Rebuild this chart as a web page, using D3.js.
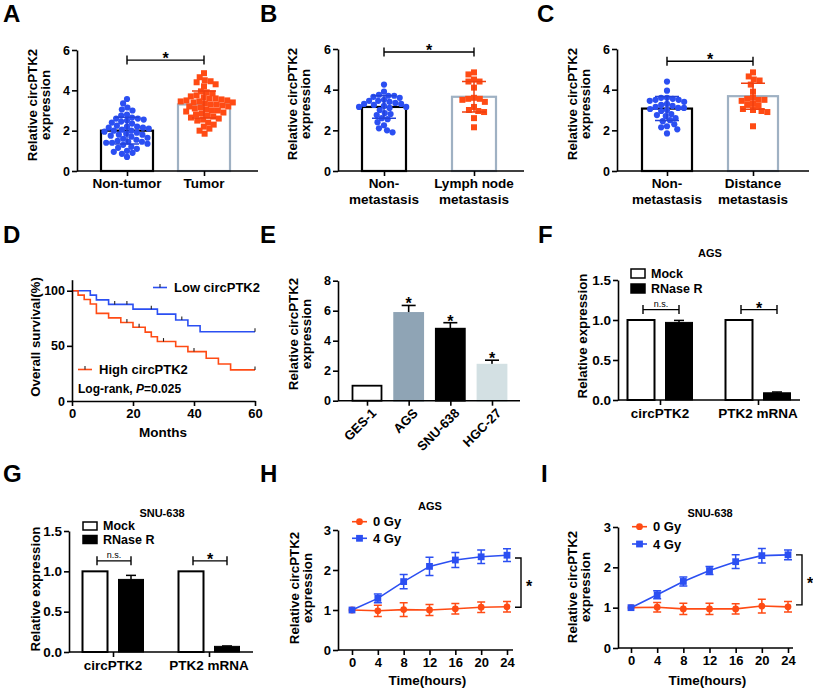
<!DOCTYPE html>
<html>
<head>
<meta charset="utf-8">
<script src="https://cdn.jsdelivr.net/npm/d3@7/dist/d3.min.js"></script>
<style>
html,body{margin:0;padding:0;background:#fff;}
svg{display:block;}
</style>
</head>
<body>
<svg id="fig" width="813" height="690" xmlns="http://www.w3.org/2000/svg"></svg>
<script>
// ================= DATA =================
// Panel A
const aCategories = ["Non-tumor", "Tumor"];
const aMeans = [2.0, 3.3];
const aSD = [0.66, 0.67];
const aNonTumor = [3.57, 3.35, 3.15, 3.05, 3.0, 2.8, 2.75, 2.65, 2.6, 2.6, 2.55, 2.5, 2.45, 2.4, 2.35, 2.25, 2.2, 2.2, 2.15, 2.15, 2.1, 2.05, 2.0, 2.0, 1.95, 1.9, 1.85, 1.8, 1.8, 1.75, 1.7, 1.65, 1.6, 1.55, 1.5, 1.45, 1.45, 1.4, 1.4, 1.35, 1.3, 1.2, 1.15, 1.1, 1.0, 0.95, 0.9, 0.85, 0.7];
const aTumor = [4.85, 4.65, 4.5, 4.45, 4.4, 4.3, 4.2, 3.95, 3.9, 3.85, 3.75, 3.7, 3.65, 3.6, 3.6, 3.55, 3.5, 3.5, 3.45, 3.45, 3.4, 3.4, 3.35, 3.3, 3.3, 3.25, 3.2, 3.2, 3.15, 3.1, 3.05, 3.0, 3.0, 2.95, 2.9, 2.85, 2.8, 2.75, 2.7, 2.65, 2.6, 2.55, 2.5, 2.4, 2.3, 2.2, 2.1, 2.0, 1.85];
// Panel B
const bCategories = ["Non-metastasis", "Lymph node metastasis"];
const bLabelLines = [["Non-", "metastasis"], ["Lymph node", "metastasis"]];
const bMeans = [3.15, 3.65];
const bSD = [0.55, 0.75];
const bNonMetastasis = [4.25, 3.9, 3.75, 3.7, 3.7, 3.65, 3.6, 3.5, 3.45, 3.45, 3.4, 3.35, 3.3, 3.3, 3.25, 3.2, 3.15, 3.15, 3.1, 3.0, 2.85, 2.8, 2.75, 2.6, 2.55, 2.4, 2.25, 2.1, 2.0, 1.9];
const bLymphNode = [4.85, 4.75, 4.5, 4.4, 4.4, 4.1, 3.6, 3.55, 3.55, 3.5, 3.4, 3.15, 3.0, 2.95, 2.9, 2.6, 2.15];
// Panel C
const cCategories = ["Non-metastasis", "Distance metastasis"];
const cLabelLines = [["Non-", "metastasis"], ["Distance", "metastasis"]];
const cMeans = [3.07, 3.68];
const cSD = [0.59, 0.64];
const cNonMetastasis = [4.4, 3.95, 3.6, 3.6, 3.55, 3.5, 3.5, 3.45, 3.4, 3.3, 3.25, 3.2, 3.15, 3.1, 3.1, 3.05, 3.0, 2.95, 2.8, 2.75, 2.7, 2.6, 2.5, 2.45, 2.3, 2.2, 2.15, 2.05, 1.85];
const cDistance = [4.85, 4.65, 4.5, 4.45, 4.25, 3.9, 3.6, 3.55, 3.5, 3.5, 3.45, 3.3, 3.25, 3.2, 3.05, 3.0, 2.95, 2.9, 2.2];
const scatterYTicks = [0, 2, 4, 6];
// Panel D (Kaplan-Meier)
const dLowTimes = [0, 6, 8, 12, 20, 28, 34, 38, 42, 60];
const dLowSurv = [100, 96, 91.7, 87.6, 83.3, 78.8, 73.4, 68.2, 62.8, 62.8];
const dLowCensor = [14, 18, 26, 36, 60];
const dHighTimes = [0, 2, 4, 6, 8, 12, 16, 20, 24, 26, 28, 34, 38, 44, 48, 52, 60];
const dHighSurv = [100, 96, 92, 88, 79.5, 75.4, 71.2, 66.9, 62.5, 58.3, 53.9, 49.4, 44.8, 38.8, 33.6, 28.2, 28.2];
const dHighCensor = [18, 22, 30, 40, 60];
const dXTicks = [0, 20, 40, 60];
const dYTicks = [0, 50, 100];
// Panel E
const eCells = ["GES-1", "AGS", "SNU-638", "HGC-27"];
const eMeans = [1.0, 5.85, 4.8, 2.4];
const eErr = [0, 0.5, 0.4, 0.3];
const eSignificant = [false, true, true, true];
const eYTicks = [0, 2, 4, 6, 8];
// Panels F, G
const rnaGroups = ["circPTK2", "PTK2 mRNA"];
const rnaTreatments = ["Mock", "RNase R"];
const fMock = [1.0, 1.0];
const fRNase = [0.97, 0.09];
const fRNaseErr = [0.025, 0.01];
const gMock = [1.0, 1.0];
const gRNase = [0.90, 0.07];
const gRNaseErr = [0.05, 0.005];
const rnaSigLabels = ["n.s.", "*"];
const rnaYTicks = [0.0, 0.5, 1.0, 1.5];
// Panels H, I
const hoursTicks = [0, 4, 8, 12, 16, 20, 24];
const doseLabels = ["0 Gy", "4 Gy"];
const h0Gy = [1.0, 0.98, 1.01, 1.0, 1.03, 1.07, 1.08];
const h0GyErr = [0, 0.14, 0.17, 0.14, 0.13, 0.13, 0.13];
const h4Gy = [1.0, 1.29, 1.71, 2.09, 2.25, 2.33, 2.37];
const h4GyErr = [0, 0.11, 0.18, 0.23, 0.19, 0.17, 0.16];
const i0Gy = [1.0, 1.01, 0.97, 0.97, 0.97, 1.04, 1.02];
const i0GyErr = [0, 0.12, 0.14, 0.14, 0.13, 0.17, 0.13];
const i4Gy = [1.0, 1.32, 1.65, 1.92, 2.14, 2.29, 2.31];
const i4GyErr = [0, 0.1, 0.11, 0.1, 0.17, 0.18, 0.12];
const timeYTicks = [0, 1, 2, 3];

// ================= DRAWING =================
const FONT = "'Liberation Sans', Arial, Helvetica, sans-serif";
const BLUE = "#2b4ff2", RED = "#ff4b14";
const INT = d3.format("d");
const svg = d3.select("#fig");
svg.append("rect").attr("width", 813).attr("height", 690).attr("fill", "#fff");

function text(g, s, x, y, size, anchor, weight) {
  return g.append("text").attr("x", x).attr("y", y)
    .attr("font-family", FONT).attr("font-size", size)
    .attr("font-weight", weight || "bold")
    .attr("text-anchor", anchor || "start").attr("fill", "#000").text(s);
}
function panelLabel(s, x, y) { text(svg, s, x, y, 24, "start"); }
function rotLabel(g, lines, xs, cy, size) {
  lines.forEach((l, i) => {
    g.append("text").attr("transform", `translate(${xs[i]},${cy}) rotate(-90)`)
      .attr("font-family", FONT).attr("font-size", size || 13.3).attr("font-weight", "bold")
      .attr("text-anchor", "middle").text(l);
  });
}
function styleAxis(a, fs) {
  a.select(".domain").attr("stroke", "#000").attr("stroke-width", 1.6);
  a.selectAll(".tick line").attr("stroke", "#000").attr("stroke-width", 1.6);
  a.selectAll(".tick text").attr("font-family", FONT).attr("font-weight", "bold")
    .attr("font-size", fs || 12.5).attr("fill", "#000");
}
function leftAxis(g, y, x, ticks, fmt, fs) {
  const ax = d3.axisLeft(y).tickValues(ticks).tickSize(5).tickPadding(2).tickSizeOuter(0).tickFormat(fmt || INT);
  const a = g.append("g").attr("transform", `translate(${x},0)`).call(ax);
  styleAxis(a, fs);
  return a;
}
function baseLine(g, x1, x2, y) {
  g.append("line").attr("x1", x1).attr("x2", x2).attr("y1", y).attr("y2", y)
    .attr("stroke", "#000").attr("stroke-width", 1.6);
}
function catTicks(g, xs, y) {
  const a = g.append("g").attr("transform", `translate(0,${y})`)
    .call(d3.axisBottom(xs).tickSize(5).tickFormat(""));
  a.select(".domain").remove();
  a.selectAll(".tick line").attr("stroke", "#000").attr("stroke-width", 1.6);
}
function hBracket(g, x1, x2, y, label, small) {
  const p = d3.path();
  p.moveTo(x1, y - 4.5); p.lineTo(x1, y + 4.5);
  p.moveTo(x1, y); p.lineTo(x2, y);
  p.moveTo(x2, y - 4.5); p.lineTo(x2, y + 4.5);
  g.append("path").attr("d", p.toString()).attr("stroke", "#000").attr("stroke-width", 1.4).attr("fill", "none");
  if (small) text(g, label, (x1 + x2) / 2, y - 2.8, 9, "middle", "normal");
  else text(g, label, (x1 + x2) / 2, y + 4, 16, "middle");
}
// simple beeswarm: each point placed at the smallest horizontal offset free of overlap
function swarm(vals, yS, D) {
  const pts = [];
  vals.slice().sort((a, b) => b - a).forEach(v => {
    const y = yS(v);
    const cands = [0];
    pts.forEach(p => {
      const dy = Math.abs(p.y - y);
      if (dy < D) { const dx = Math.sqrt(D * D - dy * dy); cands.push(p.x + dx, p.x - dx); }
    });
    cands.sort((a, b) => Math.abs(a) - Math.abs(b) || a - b);
    const ok = cands.find(c => pts.every(p => (p.x - c) ** 2 + (p.y - y) ** 2 >= D * D - 0.01));
    pts.push({ v, x: ok, y });
  });
  return pts;
}

// ---------- scatter + bar panels (A, B, C) ----------
function scatterPanel(c) {
  const g = svg.append("g");
  const y = d3.scaleLinear().domain([0, 6]).range([c.y0, c.y6]);
  const x = d3.scalePoint().domain(c.cats).range(c.centers);
  const barStroke = ["#000", "#9fb1c3"];
  c.cats.forEach((cat, i) => {
    g.append("rect").attr("x", x(cat) - c.barW / 2).attr("y", y(c.means[i]))
      .attr("width", c.barW).attr("height", y(0) - y(c.means[i]))
      .attr("fill", "#fff").attr("stroke", barStroke[i]).attr("stroke-width", 2.2);
  });
  c.cats.forEach((cat, i) => {
    const cx = x(cat);
    const pts = swarm(c.groups[i], y, 5.9);
    if (i === 0) {
      g.selectAll(null).data(pts).enter().append("circle")
        .attr("cx", d => cx + d.x).attr("cy", d => d.y).attr("r", 3.1).attr("fill", BLUE);
    } else {
      g.selectAll(null).data(pts).enter().append("rect")
        .attr("x", d => cx + d.x - 3.0).attr("y", d => d.y - 3.0)
        .attr("width", 6.0).attr("height", 6.0).attr("fill", RED);
    }
    const m = c.means[i], s = c.sds[i], col = i === 0 ? "#2342d8" : "#f04010";
    const p = d3.path();
    p.moveTo(cx, y(m - s)); p.lineTo(cx, y(m + s));
    p.moveTo(cx - 12, y(m + s)); p.lineTo(cx + 12, y(m + s));
    p.moveTo(cx - 12, y(m - s)); p.lineTo(cx + 12, y(m - s));
    g.append("path").attr("d", p.toString()).attr("stroke", col).attr("stroke-width", 1.5).attr("fill", "none");
  });
  leftAxis(g, y, c.axisX, scatterYTicks);
  baseLine(g, c.axisX, c.axisEnd, c.y0);
  catTicks(g, x, c.y0);
  c.cats.forEach((cat, i) => {
    c.labels[i].forEach((l, k) => text(g, l, x(cat), c.labelY + k * 16, 13.5, "middle"));
  });
  hBracket(g, x(c.cats[0]), x(c.cats[1]), y(c.bracket), "*");
  rotLabel(g, ["Relative circPTK2", "expression"], c.yLabelX, c.yLabelCY);
}

scatterPanel({ cats: aCategories, labels: [["Non-tumor"], ["Tumor"]], groups: [aNonTumor, aTumor],
  means: aMeans, sds: aSD, axisX: 77, axisEnd: 258, y0: 171, y6: 50, centers: [127, 204], barW: 52,
  labelY: 188, bracket: 5.5, yLabelX: [37, 50], yLabelCY: 105 });
scatterPanel({ cats: bCategories, labels: bLabelLines, groups: [bNonMetastasis, bLymphNode],
  means: bMeans, sds: bSD, axisX: 338, axisEnd: 524, y0: 171, y6: 49, centers: [384, 474], barW: 44,
  labelY: 188, bracket: 5.85, yLabelX: [297, 310], yLabelCY: 104 });
scatterPanel({ cats: cCategories, labels: cLabelLines, groups: [cNonMetastasis, cDistance],
  means: cMeans, sds: cSD, axisX: 617, axisEnd: 809, y0: 171, y6: 49, centers: [667, 753], barW: 50,
  labelY: 188, bracket: 5.4, yLabelX: [577, 590], yLabelCY: 104 });

// ---------- Panel D: Kaplan-Meier ----------
(function () {
  const g = svg.append("g");
  const x = d3.scaleLinear().domain([0, 60]).range([72, 255]);
  const y = d3.scaleLinear().domain([0, 110]).range([401, 279.7]);
  const line = d3.line().curve(d3.curveStepAfter).x(d => x(d[0])).y(d => y(d[1]));
  function km(times, surv, censor, col) {
    const pts = times.map((t, i) => [t, surv[i]]);
    g.append("path").attr("d", line(pts)).attr("fill", "none").attr("stroke", col).attr("stroke-width", 1.6);
    censor.forEach(t => {
      let s = surv[0];
      times.forEach((tt, i) => { if (tt <= t) s = surv[i]; });
      g.append("line").attr("x1", x(t)).attr("x2", x(t)).attr("y1", y(s)).attr("y2", y(s) - 3.5)
        .attr("stroke", "#222").attr("stroke-width", 1.1);
    });
  }
  km(dLowTimes, dLowSurv, dLowCensor, BLUE);
  km(dHighTimes, dHighSurv, dHighCensor, RED);
  leftAxis(g, y, 72, dYTicks);
  const ax = g.append("g").attr("transform", "translate(0,401)")
    .call(d3.axisBottom(x).tickValues(dXTicks).tickSize(5).tickPadding(3).tickSizeOuter(0).tickFormat(INT));
  styleAxis(ax, 13);
  // legend
  function leg(x1, yy, col, label) {
    g.append("line").attr("x1", x1).attr("x2", x1 + 14).attr("y1", yy).attr("y2", yy).attr("stroke", col).attr("stroke-width", 1.6);
    g.append("line").attr("x1", x1 + 7).attr("x2", x1 + 7).attr("y1", yy).attr("y2", yy - 3.5).attr("stroke", "#222").attr("stroke-width", 1.1);
    text(g, label, x1 + 21, yy + 4.5, 13, "start");
  }
  leg(153, 287.5, BLUE, "Low circPTK2");
  leg(78, 369.5, RED, "High circPTK2");
  const t = text(g, "Log-rank, ", 78, 393, 12, "start");
  t.append("tspan").attr("font-style", "italic").text("P");
  t.append("tspan").text("=0.025");
  text(g, "Months", 163, 437, 13.5, "middle");
  rotLabel(g, ["Overall survival(%)"], [40], 337);
})();

// ---------- Panel E ----------
(function () {
  const g = svg.append("g");
  const y = d3.scaleLinear().domain([0, 8]).range([400.7, 280.7]);
  const x = d3.scalePoint().domain(eCells).range([367, 492]);
  const fills = ["#fff", "#8fa4b5", "#000", "#d3e0e3"];
  const strokes = ["#000", "#8fa4b5", "#000", "#d3e0e3"];
  const bw = 29;
  eCells.forEach((c, i) => {
    const cx = x(c);
    if (eErr[i] > 0) {
      const top = y(eMeans[i] + eErr[i]);
      g.append("line").attr("x1", cx).attr("x2", cx).attr("y1", y(eMeans[i])).attr("y2", top).attr("stroke", "#000").attr("stroke-width", 1.6);
      g.append("line").attr("x1", cx - 7).attr("x2", cx + 7).attr("y1", top).attr("y2", top).attr("stroke", "#000").attr("stroke-width", 1.6);
      if (eSignificant[i]) text(g, "*", cx, top + 4, 16, "middle");
    }
    g.append("rect").attr("x", cx - bw / 2).attr("y", y(eMeans[i])).attr("width", bw)
      .attr("height", y(0) - y(eMeans[i])).attr("fill", fills[i]).attr("stroke", strokes[i]).attr("stroke-width", 1.8);
  });
  leftAxis(g, y, 338, eYTicks);
  baseLine(g, 338, 520, 400.7);
  catTicks(g, x, 400.7);
  eCells.forEach(c => {
    g.append("text").attr("transform", `translate(${x(c) + 10},${414}) rotate(-45)`)
      .attr("font-family", FONT).attr("font-size", 13).attr("font-weight", "bold")
      .attr("text-anchor", "end").text(c);
  });
  rotLabel(g, ["Relative circPTK2", "expression"], [298, 311], 334);
})();

// ---------- Panels F, G ----------
function rnasePanel(c) {
  const g = svg.append("g");
  const y = d3.scaleLinear().domain([0, 1.5]).range([c.y0, c.y15]);
  const x = d3.scalePoint().domain(rnaGroups).range(c.centers);
  rnaGroups.forEach((grp, i) => {
    const cx = x(grp);
    const mx = cx + c.off[0], rx = cx + c.off[1];
    g.append("rect").attr("x", mx - c.bw / 2).attr("y", y(c.mock[i])).attr("width", c.bw)
      .attr("height", y(0) - y(c.mock[i])).attr("fill", "#fff").attr("stroke", "#000").attr("stroke-width", 2);
    const top = y(c.rnase[i] + c.err[i]);
    g.append("line").attr("x1", rx).attr("x2", rx).attr("y1", y(c.rnase[i])).attr("y2", top).attr("stroke", "#000").attr("stroke-width", 1.5);
    g.append("line").attr("x1", rx - 5).attr("x2", rx + 5).attr("y1", top).attr("y2", top).attr("stroke", "#000").attr("stroke-width", 1.5);
    g.append("rect").attr("x", rx - c.bw / 2).attr("y", y(c.rnase[i])).attr("width", c.bw)
      .attr("height", y(0) - y(c.rnase[i])).attr("fill", "#000").attr("stroke", "#000").attr("stroke-width", 1);
    hBracket(g, mx + 2, rx, y(1.13), rnaSigLabels[i], i === 0);
  });
  leftAxis(g, y, c.axisX, rnaYTicks, d3.format(".1f"), 13.5);
  baseLine(g, c.axisX, c.axisEnd, c.y0);
  catTicks(g, x, c.y0);
  rnaGroups.forEach(grp => text(g, grp, x(grp), c.labelY, 13.5, "middle"));
  // legend
  const lx = c.legX;
  g.append("rect").attr("x", lx).attr("y", c.legY[0] - c.boxH).attr("width", 14).attr("height", c.boxH)
    .attr("fill", "#fff").attr("stroke", "#000").attr("stroke-width", 1.5);
  g.append("rect").attr("x", lx).attr("y", c.legY[1] - c.boxH).attr("width", 14).attr("height", c.boxH)
    .attr("fill", "#000").attr("stroke", "#000").attr("stroke-width", 1.5);
  text(g, rnaTreatments[0], lx + 20, c.legY[0], 12.5, "start");
  text(g, rnaTreatments[1], lx + 20, c.legY[1], 12.5, "start");
  text(g, c.title, c.titleX, c.titleY, 11, "middle");
  rotLabel(g, ["Relative expression"], [c.yLabelX], c.yLabelCY);
}
rnasePanel({ mock: fMock, rnase: fRNase, err: fRNaseErr, y0: 400, y15: 280, centers: [660, 758], off: [-19, 19],
  bw: 27, axisX: 618, axisEnd: 800, labelY: 418, legX: 631, legY: [278, 293], boxH: 9,
  title: "AGS", titleX: 710, titleY: 257, yLabelX: 587, yLabelCY: 336 });
rnasePanel({ mock: gMock, rnase: gRNase, err: gRNaseErr, y0: 652, y15: 531, centers: [113, 209], off: [-18, 18],
  bw: 25, axisX: 69, axisEnd: 253, labelY: 670, legX: 83, legY: [530, 543.5], boxH: 8,
  title: "SNU-638", titleX: 162, titleY: 517, yLabelX: 40, yLabelCY: 589 });

// ---------- Panels H, I ----------
function timePanel(c) {
  const g = svg.append("g");
  const x = d3.scaleLinear().domain([0, 24]).range([c.x0, c.x24]);
  const y = d3.scaleLinear().domain([0, 3]).range([c.y0, c.y3]);
  const line = d3.line().x((d, i) => x(hoursTicks[i])).y(d => y(d));
  function series(vals, errs, col, marker) {
    vals.forEach((v, i) => {
      if (errs[i] > 0) {
        const p = d3.path();
        const xx = x(hoursTicks[i]);
        p.moveTo(xx, y(v - errs[i])); p.lineTo(xx, y(v + errs[i]));
        p.moveTo(xx - 4, y(v + errs[i])); p.lineTo(xx + 4, y(v + errs[i]));
        p.moveTo(xx - 4, y(v - errs[i])); p.lineTo(xx + 4, y(v - errs[i]));
        g.append("path").attr("d", p.toString()).attr("stroke", col).attr("stroke-width", 1.5).attr("fill", "none");
      }
    });
    g.append("path").attr("d", line(vals)).attr("fill", "none").attr("stroke", col).attr("stroke-width", 1.6);
    vals.forEach((v, i) => drawMarker(x(hoursTicks[i]), y(v), col, marker));
  }
  function drawMarker(px, py, col, marker) {
    if (marker === "circle") g.append("circle").attr("cx", px).attr("cy", py).attr("r", 3.4).attr("fill", col);
    else g.append("rect").attr("x", px - 3.4).attr("y", py - 3.4).attr("width", 6.8).attr("height", 6.8).attr("fill", col);
  }
  series(c.v0, c.e0, RED, "circle");
  series(c.v4, c.e4, BLUE, "square");
  leftAxis(g, y, c.axisX, timeYTicks, INT, 13);
  baseLine(g, c.axisX, c.axisEnd, c.y0);
  const ax = g.append("g").attr("transform", `translate(0,${c.y0})`)
    .call(d3.axisBottom(x).tickValues(hoursTicks).tickSize(5).tickPadding(3).tickFormat(INT));
  ax.select(".domain").remove();
  styleAxis(ax, 13);
  // significance bracket
  const bx = x(24) + 14, yt = y(c.bracket[1]), yb = y(c.bracket[0]);
  const p = d3.path();
  p.moveTo(bx - 6, yt); p.lineTo(bx, yt); p.lineTo(bx, yb); p.lineTo(bx - 6, yb);
  g.append("path").attr("d", p.toString()).attr("stroke", "#000").attr("stroke-width", 1.4).attr("fill", "none");
  text(g, "*", bx + 8, (yt + yb) / 2 + 9, 16, "middle");
  // legend
  [[c.v0, RED, "circle"], [c.v4, BLUE, "square"]].forEach((s, k) => {
    const ly = c.legY[k];
    g.append("line").attr("x1", c.legX).attr("x2", c.legX + 15).attr("y1", ly).attr("y2", ly).attr("stroke", s[1]).attr("stroke-width", 1.6);
    drawMarker(c.legX + 7.5, ly, s[1], s[2]);
    text(g, doseLabels[k], c.legX + 21, ly + 4.5, 13, "start");
  });
  text(g, c.title, c.titleX, c.titleY, 11, "middle");
  text(g, "Time(hours)", (c.axisX + c.axisEnd) / 2 + 2, 685, 13.5, "middle");
  rotLabel(g, ["Relative circPTK2", "expression"], c.yLabelX, c.yLabelCY);
}
timePanel({ v0: h0Gy, e0: h0GyErr, v4: h4Gy, e4: h4GyErr, x0: 352, x24: 507, y0: 650, y3: 530,
  axisX: 338, axisEnd: 513, bracket: [1.07, 2.3], legX: 352, legY: [521.7, 538.3],
  title: "AGS", titleX: 430, titleY: 510, yLabelX: [299, 312], yLabelCY: 588 });
timePanel({ v0: i0Gy, e0: i0GyErr, v4: i4Gy, e4: i4GyErr, x0: 631, x24: 788, y0: 648, y3: 527,
  axisX: 618, axisEnd: 793, bracket: [1.07, 2.31], legX: 632, legY: [526.7, 544],
  title: "SNU-638", titleX: 710, titleY: 517, yLabelX: [577, 590], yLabelCY: 587 });

// ---------- panel letters ----------
panelLabel("A", 3, 22); panelLabel("B", 260, 22); panelLabel("C", 537, 22);
panelLabel("D", 3, 243); panelLabel("E", 260, 243); panelLabel("F", 538, 243);
panelLabel("G", 3, 482); panelLabel("H", 260, 482); panelLabel("I", 541, 482);
</script>
</body>
</html>
